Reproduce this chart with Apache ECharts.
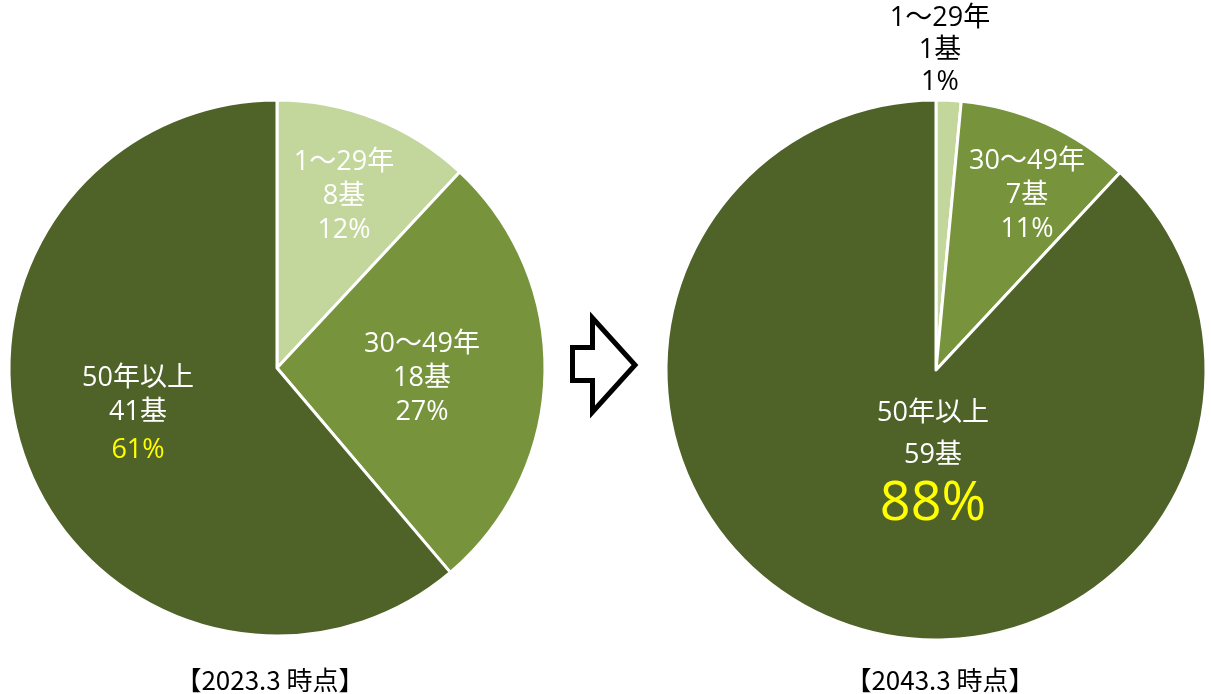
<!DOCTYPE html>
<html>
<head>
<meta charset="utf-8">
<script src="https://cdn.jsdelivr.net/npm/echarts@6/dist/echarts.min.js"></script>
<style>
html,body{margin:0;padding:0;background:#fff;}
#chart{width:1211px;height:694px;}
</style>
</head>
<body>
<div id="chart"></div>
<script>
// ---- data ----
const categories = ['1～29年', '30～49年', '50年以上'];
const counts2023 = [8, 18, 41];
const counts2043 = [1, 7, 59];
const pct2023 = [12, 27, 61];
const pct2043 = [1, 11, 88];
const periodLabels = ['【2023.3 時点】', '【2043.3 時点】'];

// ---- styles ----
const colors = ['#C3D69B', '#77933C', '#4F6228'];
const FONT = '"Open Sans", "Noto Sans CJK JP", sans-serif';
const CJK = '"Noto Sans CJK JP", sans-serif';

// label centers (layout only)
const labelPos2023 = [[344, 196], [422, 378], [138, 416]];
const labelPos2043 = [[940, 50], [1027, 195], [933, 463]];
// style keys per label
const labelStyle2023 = [['w','w','w'], ['w','w','w'], ['w','w','y']];
const labelStyle2043 = [['k','k','k'], ['w','w','w'], ['w2','w2','big']];

const rich = {
  w: {color: '#ffffff', fontSize: 27, lineHeight: 34, fontFamily: FONT, fontWeight: 'normal'},
  w2: {color: '#ffffff', fontSize: 27, lineHeight: 42, fontFamily: FONT, fontWeight: 'normal'},
  k: {color: '#000000', fontSize: 27, lineHeight: 32, fontFamily: FONT, fontWeight: 'normal'},
  y: {color: '#FFFF00', fontSize: 27, lineHeight: 42, fontFamily: FONT, fontWeight: 'normal'},
  big: {color: '#FFFF00', fontSize: 54, lineHeight: 58, fontFamily: FONT, fontWeight: 'normal'}
};

function buildSeries(counts, pcts, styles, positions, center, radius) {
  return {
    type: 'pie',
    center: center,
    radius: radius,
    startAngle: 90,
    clockwise: true,
    avoidLabelOverlap: false,
    animation: false,
    silent: true,
    itemStyle: {borderColor: '#ffffff', borderWidth: 3},
    label: {
      show: true,
      position: 'inside',
      formatter: function (p) {
        const s = styles[p.dataIndex];
        return '{' + s[0] + '|' + p.name + '}\n{' + s[1] + '|' + p.value + '基}\n{' + s[2] + '|' + pcts[p.dataIndex] + '%}';
      },
      rich: rich,
      align: 'center'
    },
    labelLine: {show: false},
    labelLayout: function (p) {
      const pos = positions[p.dataIndex];
      return {x: pos[0], y: pos[1], align: 'center', verticalAlign: 'middle', hideOverlap: false};
    },
    data: categories.map(function (c, i) {
      return {name: c, value: counts[i], itemStyle: {color: colors[i]}};
    })
  };
}

const chart = echarts.init(document.getElementById('chart'), null, {renderer: 'canvas'});
chart.setOption({
  backgroundColor: '#ffffff',
  animation: false,
  series: [
    buildSeries(counts2023, pct2023, labelStyle2023, labelPos2023, [277, 368], 268),
    buildSeries(counts2043, pct2043, labelStyle2043, labelPos2043, [936, 370], 270)
  ],
  graphic: [
    {
      type: 'polygon',
      shape: {points: [[572.5, 347.5], [592.5, 347.5], [592.5, 318], [635, 365], [592.5, 412], [592.5, 380.5], [572.5, 380.5]]},
      style: {fill: '#ffffff', stroke: '#000000', lineWidth: 5, lineJoin: 'miter'}
    },
    {
      type: 'text', x: 270, y: 680,
      style: {text: periodLabels[0], fill: '#000', font: '26px ' + CJK, textAlign: 'center', textVerticalAlign: 'middle'}
    },
    {
      type: 'text', x: 940, y: 680,
      style: {text: periodLabels[1], fill: '#000', font: '26px ' + CJK, textAlign: 'center', textVerticalAlign: 'middle'}
    }
  ]
});
</script>
</body>
</html>
